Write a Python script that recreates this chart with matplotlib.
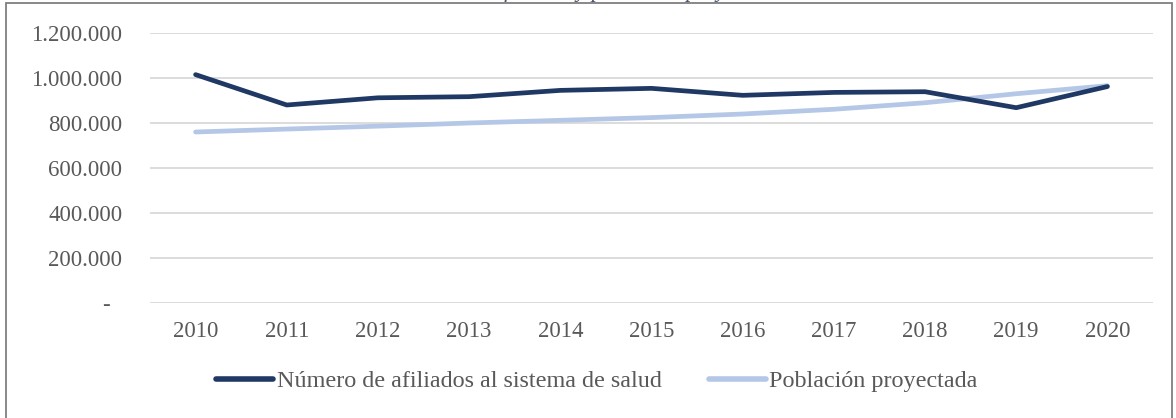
import matplotlib
matplotlib.use("Agg")
import matplotlib.pyplot as plt
from matplotlib.patches import Rectangle
from matplotlib.ticker import FuncFormatter

years = ["2010", "2011", "2012", "2013", "2014", "2015", "2016", "2017", "2018", "2019", "2020"]
afiliados = [1015000, 880000, 912000, 917000, 945000, 954000, 923000, 936000, 939000, 868000, 962000]
poblacion = [760000, 773000, 786000, 800000, 812000, 824000, 840000, 861000, 890000, 930000, 966000]

plt.rcParams["font.family"] = ["Liberation Serif", "DejaVu Serif"]
text_color = "#595959"

fig = plt.figure(figsize=(11.76, 4.18), dpi=100)
ax = fig.add_axes([150 / 1176, 1 - 303 / 418, 1003 / 1176, 270 / 418])

x = list(range(len(years)))
ax.plot(x, afiliados, color="#203864", linewidth=3.4, solid_capstyle="round",
        label="Número de afiliados al sistema de salud", zorder=3)
ax.plot(x, poblacion, color="#B4C7E7", linewidth=3.4, solid_capstyle="round",
        label="Población proyectada", zorder=2)

ax.set_xlim(-0.5, len(years) - 0.5)
ax.set_ylim(0, 1200000)
ax.set_yticks(range(0, 1200001, 200000))
ax.set_xticks(x)
ax.set_xticklabels(years)


def miles(v, _):
    if v == 0:
        return "-  "
    return f"{v:,.0f}".replace(",", ".")


ax.yaxis.set_major_formatter(FuncFormatter(miles))
ax.grid(axis="y", color="#D9D9D9", linewidth=1.3)
ax.set_axisbelow(True)
for s in ax.spines.values():
    s.set_visible(False)
ax.tick_params(axis="y", length=0, pad=20, labelsize=16.5, labelcolor=text_color)
ax.tick_params(axis="x", length=0, pad=13, labelsize=16.5, labelcolor=text_color)

leg = fig.legend(loc="center", bbox_to_anchor=(0.5 + 9 / 1176, 1 - 381 / 418), ncol=2,
                 frameon=False, fontsize=17.4, handlelength=2.35, handletextpad=0.15,
                 columnspacing=1.95, labelcolor=text_color)
for h in leg.get_lines():
    h.set_linewidth(4)

# title of the source figure, cut off at the top
fig.text(0.5, 1 - 2 / 418, "Número de afiliados y población proyectada", ha="center", va="bottom",
         fontsize=16, style="italic", color="#44546A")

fig.patches.append(Rectangle((6 / 1176, -0.05), 1166 / 1176, 1 - 3.5 / 418 + 0.05,
                             transform=fig.transFigure, fill=False,
                             edgecolor="#7F7F7F", linewidth=1.3))

fig.savefig("out.png", dpi=100)
